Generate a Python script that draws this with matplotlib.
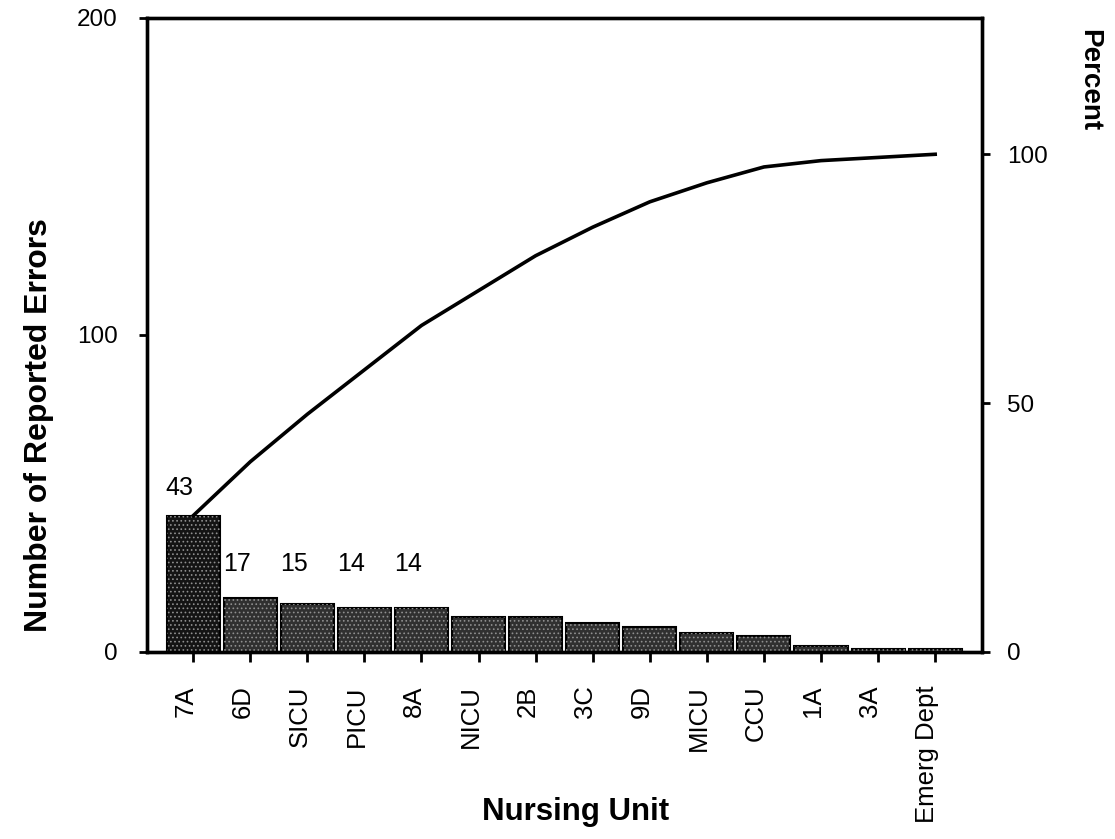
import matplotlib
matplotlib.use("Agg")
import matplotlib.pyplot as plt
import matplotlib.transforms as mtransforms
import numpy as np

# nursing units and number of reported errors (sorted, pareto style)
units = ["7A", "6D", "SICU", "PICU", "8A", "NICU", "2B", "3C", "9D",
         "MICU", "CCU", "1A", "3A", "Emerg Dept"]
errors = [43, 17, 15, 14, 14, 11, 11, 9, 8, 6, 5, 2, 1, 1]
count_ticks = [0, 100, 200]
percent_ticks = [0, 50, 100]
labelled = 5  # the first bars carry their value

plt.rcParams["font.family"] = ["Liberation Sans", "DejaVu Sans"]
plt.rcParams["hatch.linewidth"] = 0.7

total = sum(errors)
x = np.arange(len(units))
cum_pct = np.cumsum(errors) / total * 100

fig = plt.figure(figsize=(11.15, 8.39), dpi=100)
ax = fig.add_axes([0.1318, 0.2229, 0.7489, 0.7557])

# bars: solid dark fill, then a grey stipple on top
colors = ["#141414"] + ["#303030"] * (len(units) - 1)
ax.bar(x, errors, width=0.93, color=colors, edgecolor="black", linewidth=1.5, zorder=2)
ax.bar(x, errors, width=0.93, facecolor="none", edgecolor="#8f8f8f", linewidth=0,
       hatch="....", zorder=3)

# value labels above the first bars
for i in range(labelled):
    if i == 0:
        ax.annotate(str(errors[i]), (x[i], errors[i]), xytext=(-14, 28),
                    textcoords="offset pixels", ha="center", va="center", fontsize=18)
    else:
        ax.annotate(str(errors[i]), (x[i], errors[1]), xytext=(-13, 34),
                    textcoords="offset pixels", ha="center", va="center", fontsize=18)

ax.set_xlim(-0.81, 13.82)
ax.set_ylim(0, 200)
ax.set_yticks(count_ticks)
ax.set_xticks(x, units, rotation=90)
ax.tick_params(axis="y", direction="out", length=6, width=2, labelsize=17.5, pad=15)
ax.tick_params(axis="x", direction="out", length=7, width=2, labelsize=18.5, pad=17)

shift = mtransforms.ScaledTranslation(-8 / 100, 0, fig.dpi_scale_trans)
for lab in ax.get_xticklabels():
    lab.set_transform(lab.get_transform() + shift)

# cumulative percent line on the right axis
ax2 = ax.twinx()
ax2.plot(x, cum_pct, color="black", linewidth=2.6, zorder=4)
ax2.set_ylim(0, 200 * 100 / total)
ax2.set_yticks(percent_ticks)
ax2.tick_params(axis="y", direction="out", length=6, width=2, labelsize=17.5, pad=12)

for a in (ax, ax2):
    for sp in a.spines.values():
        sp.set_linewidth(2.4)

fig.text(39 / 1115, 1 - 425 / 839, "Number of Reported Errors", rotation=90,
         ha="center", va="center", fontsize=23, fontweight="bold")
fig.text(576 / 1115, 1 - 812 / 839, "Nursing Unit",
         ha="center", va="center", fontsize=22.5, fontweight="bold")
fig.text(1089 / 1115, 1 - 80 / 839, "Percent", rotation=270,
         ha="center", va="center", fontsize=20, fontweight="bold")

fig.savefig("out.png", dpi=100)
